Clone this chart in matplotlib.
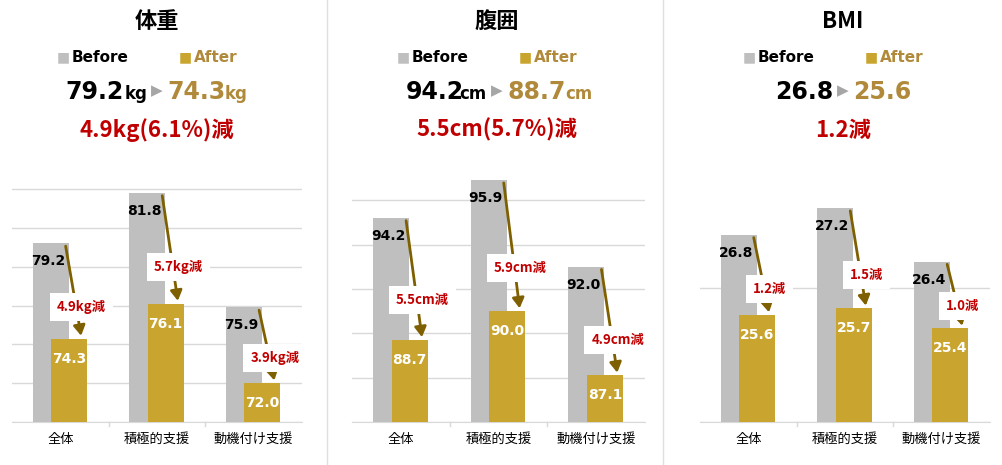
import matplotlib.pyplot as plt

plt.rcParams['font.family'] = ['DejaVu Sans', 'Noto Sans CJK JP']

categories = ['全体', '積極的支援', '動機付け支援']
titles = ['体重', '腹囲', 'BMI']
units = ['kg', 'cm', '']
before = [[79.2, 81.8, 75.9], [94.2, 95.9, 92.0], [26.8, 27.2, 26.4]]
after = [[74.3, 76.1, 72.0], [88.7, 90.0, 87.1], [25.6, 25.7, 25.4]]
diff_labels = [['4.9kg減', '5.7kg減', '3.9kg減'],
               ['5.5cm減', '5.9cm減', '4.9cm減'],
               ['1.2減', '1.5減', '1.0減']]
total_before = ['79.2', '94.2', '26.8']
total_after = ['74.3', '88.7', '25.6']
summary = ['4.9kg(6.1%)減', '5.5cm(5.7%)減', '1.2減']
y_ranges = [(70, 83.6, 2), (85, 96.9, 2), (24, 27.95, 2)]

GRAY = '#bfbfbf'
GOLD = '#c9a42f'
AFTER_TXT = '#b08a3a'
RED = '#c00000'
ARROW = '#7f6000'
JP = ['Noto Sans CJK JP', 'DejaVu Sans']

W, H = 1002, 465
fig = plt.figure(figsize=(W / 100, H / 100), dpi=100)

ax_px = [(12, 302), (352, 645), (700, 990)]
centers = [157, 497, 843]
top_px, bot_px = 158, 422

for k in range(3):
    l, r = ax_px[k]
    ax = fig.add_axes([l / W, 1 - bot_px / H, (r - l) / W, (bot_px - top_px) / H])
    lo, hi, step = y_ranges[k]
    ax.set_ylim(lo, hi)
    ax.set_xlim(-0.5, 2.5)
    g = lo
    while g < hi:
        ax.axhline(g, color='#d9d9d9', lw=1, zorder=0)
        g += step
    xs = range(3)
    ax.bar([x - 0.1 for x in xs], [b - lo for b in before[k]], 0.37, bottom=lo, color=GRAY, zorder=2)
    ax.bar([x + 0.09 for x in xs], [a - lo for a in after[k]], 0.37, bottom=lo, color=GOLD, zorder=3)
    px = (hi - lo) / (bot_px - top_px)
    for i in xs:
        b, a = before[k][i], after[k][i]
        ax.text(i - 0.13, b - 18 * px, f'{b:.1f}', ha='center', va='center',
                fontsize=10, fontweight='bold', color='black', zorder=5)
        ax.text(i + 0.09, a - 20 * px, f'{a:.1f}', ha='center', va='center',
                fontsize=10, fontweight='bold', color='white', zorder=5)
        ax.annotate('', xy=(i + 0.22, a), xytext=(i + 0.05, b),
                    arrowprops=dict(arrowstyle='-|>,head_width=0.35,head_length=0.6',
                                    color=ARROW, lw=2), zorder=4)
        ax.text(i + 0.22, b - 0.67 * (b - a), diff_labels[k][i], ha='center', va='center',
                fontsize=9.5, fontweight='bold', color=RED, family=JP, zorder=6,
                bbox=dict(facecolor='white', edgecolor='none', pad=5))
    ax.set_xticks(list(xs))
    ax.set_xticklabels(categories, family=JP, fontsize=9.5)
    ax.tick_params(axis='x', length=0, pad=8)
    ax.set_yticks([])
    for s in ['top', 'right', 'left']:
        ax.spines[s].set_visible(False)
    ax.spines['bottom'].set_color('#d9d9d9')
    for bx in [0.5, 1.5]:
        ax.plot([bx, bx], [lo, lo - 4 * px], color='#d9d9d9', lw=1, clip_on=False)

    c = centers[k] / W
    fig.text(c, 1 - 22 / H, titles[k], ha='center', va='center', fontsize=16,
             fontweight='bold', family=JP)
    fig.text(c - 100 / W, 1 - 57 / H, '■', ha='left', va='center', fontsize=10, color=GRAY)
    fig.text(c - 85 / W, 1 - 57 / H, 'Before', ha='left', va='center', fontsize=11, fontweight='bold')
    fig.text(c + 22 / W, 1 - 57 / H, '■', ha='left', va='center', fontsize=10, color=GOLD)
    fig.text(c + 37 / W, 1 - 57 / H, 'After', ha='left', va='center', fontsize=11,
             fontweight='bold', color=AFTER_TXT)
    # totals
    fig.text(c, 1 - 91 / H, '▶', ha='center', va='center', fontsize=11, color='#a6a6a6')
    ux = 23 if units[k] else 0
    fig.text(c - 10 / W - ux / W, 1 - 92 / H, total_before[k], ha='right', va='center',
             fontsize=17, fontweight='bold')
    if units[k]:
        fig.text(c - 10 / W, 1 - 94 / H, units[k], ha='right', va='center', fontsize=12, fontweight='bold')
    fig.text(c + 10 / W, 1 - 92 / H, total_after[k], ha='left', va='center',
             fontsize=17, fontweight='bold', color=AFTER_TXT)
    if units[k]:
        fig.text(c + 10 / W + 58 / W, 1 - 94 / H, units[k], ha='left', va='center',
                 fontsize=12, fontweight='bold', color=AFTER_TXT)
    fig.text(c, 1 - 130 / H, summary[k], ha='center', va='center', fontsize=16,
             fontweight='bold', color=RED, family=JP)

for sx in [327, 663]:
    fig.add_artist(plt.Line2D([sx / W, sx / W], [0, 1], color='#e0e0e0', lw=1))

fig.savefig('out.png', dpi=100)
